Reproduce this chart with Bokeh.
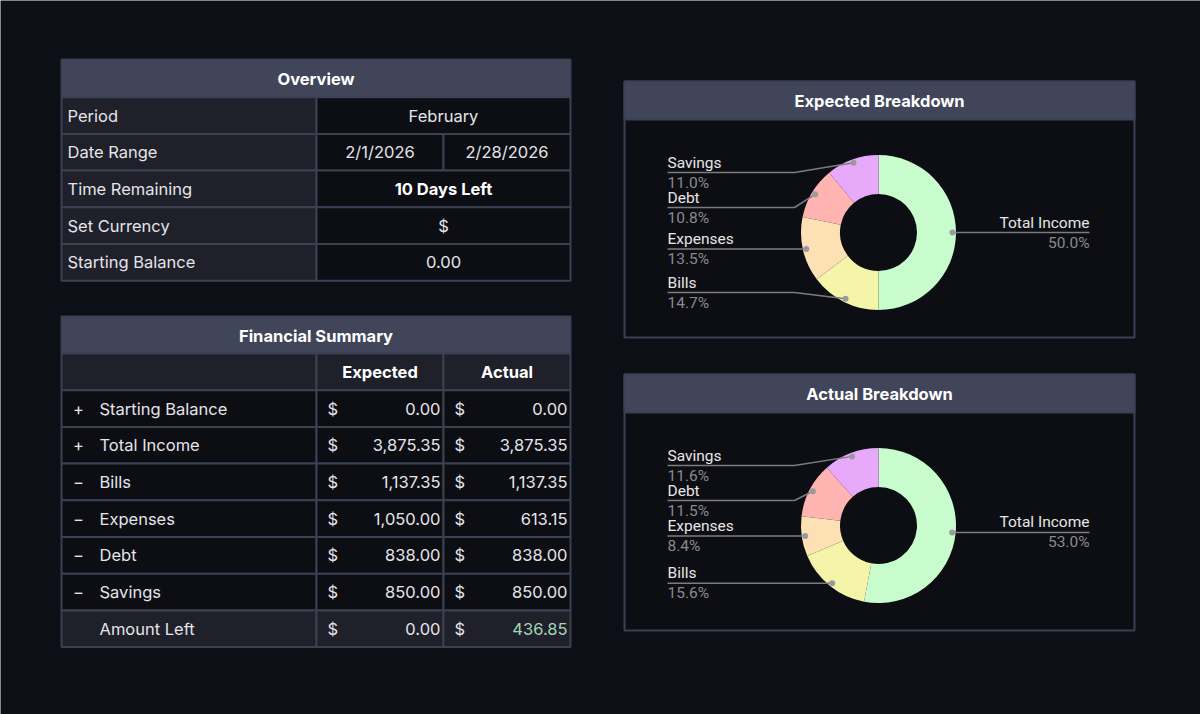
import math
from bokeh.plotting import figure
from bokeh.models import Range1d
from bokeh.core.properties import value
from bokeh.embed import file_html
from bokeh.resources import INLINE

# ---------------- data ----------------
overview_labels = ["Period", "Date Range", "Time Remaining", "Set Currency", "Starting Balance"]
period = "February"
start_date = "2/1/2026"
end_date = "2/28/2026"
time_remaining = "10 Days Left"
currency = "$"
starting_balance = 0.00

summary_labels = ["Starting Balance", "Total Income", "Bills", "Expenses", "Debt", "Savings"]
summary_signs = ["+", "+", "\u2212", "\u2212", "\u2212", "\u2212"]
expected = [0.00, 3875.35, 1137.35, 1050.00, 838.00, 850.00]
actual = [0.00, 3875.35, 1137.35, 613.15, 838.00, 850.00]

breakdown_categories = ["Total Income", "Bills", "Expenses", "Debt", "Savings"]
breakdown_colors = ["#c8fccc", "#f5f5a9", "#fde0b4", "#ffb4b1", "#e8a9fb"]

# ---------------- style ----------------
W, H = 1200, 714
BG = "#0d0f17"
HEAD = "#40455a"
LIGHT = "#1f2029"
DARK = "#0d0e14"
BORDER = "#3b4053"
TXT = "#e4e4ea"
TFONT = "Inter"
CFONT = "Roboto"
TSIZE = "16.5px"
CSIZE = "15.5px"


def Y(py):
    return H - py


p = figure(width=W, height=H, x_range=Range1d(0, W), y_range=Range1d(0, H),
           output_backend="svg", toolbar_location=None, min_border=0)
p.axis.visible = False
p.grid.visible = False
p.outline_line_color = None
p.background_fill_color = BG
p.border_fill_color = BG


def cell(x0, x1, y0, y1, fill):
    p.quad(left=[x0], right=[x1], top=[Y(y0)], bottom=[Y(y1)], fill_color=fill,
           line_color=BORDER, line_width=2)


def txt(x, y, s, size=TSIZE, color=TXT, align="left", bold=False, font=TFONT):
    p.text(x=[x], y=[Y(y)], text=[s], text_font=value(font), text_font_size=size,
           text_color=color, text_align=align, text_baseline="middle",
           text_font_style="bold" if bold else "normal")


def money(v):
    return f"{v:,.2f}"


# ---------------- tables ----------------
TX0, TX1, TC1, TC2 = 61, 570, 316, 443
RH = 36.7

# Overview
oy = 59
cell(TX0, TX1, oy, oy + 37.7, HEAD)
txt((TX0 + TX1) / 2, oy + 19, "Overview", color="#ffffff", align="center", bold=True)
ov_values = [[period], [start_date, end_date], [time_remaining], [currency], [money(starting_balance)]]
y0 = oy + 37.7
for i, lab in enumerate(overview_labels):
    a, b = y0 + i * RH, y0 + (i + 1) * RH
    cell(TX0, TC1, a, b, LIGHT)
    txt(TX0 + 6, (a + b) / 2, lab)
    vals = ov_values[i]
    if len(vals) == 1:
        cell(TC1, TX1, a, b, DARK)
        txt((TC1 + TX1) / 2, (a + b) / 2, vals[0], align="center", bold=(lab == "Time Remaining"),
            color="#ffffff" if lab == "Time Remaining" else TXT)
    else:
        cell(TC1, TC2, a, b, DARK)
        cell(TC2, TX1, a, b, DARK)
        txt((TC1 + TC2) / 2, (a + b) / 2, vals[0], align="center")
        txt((TC2 + TX1) / 2, (a + b) / 2, vals[1], align="center")

# Financial summary
sy = 316
cell(TX0, TX1, sy, sy + 37, HEAD)
txt((TX0 + TX1) / 2, sy + 19, "Financial Summary", color="#ffffff", align="center", bold=True)
a = sy + 37
b = a + RH
cell(TX0, TC1, a, b, LIGHT)
cell(TC1, TC2, a, b, LIGHT)
cell(TC2, TX1, a, b, LIGHT)
txt((TC1 + TC2) / 2, (a + b) / 2, "Expected", color="#ffffff", align="center", bold=True)
txt((TC2 + TX1) / 2, (a + b) / 2, "Actual", color="#ffffff", align="center", bold=True)

left_exp = sum(v if s == "+" else -v for s, v in zip(summary_signs, expected))
left_act = sum(v if s == "+" else -v for s, v in zip(summary_signs, actual))
rows = list(zip(summary_signs, summary_labels, expected, actual)) + [("", "Amount Left", left_exp, left_act)]
for i, (sg, lab, ve, va) in enumerate(rows):
    a = sy + 37 + (i + 1) * RH
    b = a + RH
    fill = LIGHT if lab == "Amount Left" else DARK
    cell(TX0, TC1, a, b, fill)
    cell(TC1, TC2, a, b, fill)
    cell(TC2, TX1, a, b, fill)
    m = (a + b) / 2
    if sg:
        txt(TX0 + 17, m, sg, align="center")
    txt(TX0 + 38, m, lab)
    txt(TC1 + 11, m, currency)
    txt(TC2 - 3, m, money(ve), align="right")
    txt(TC2 + 11, m, currency)
    txt(TX1 - 3, m, money(va), align="right",
        color="#a3d6b4" if lab == "Amount Left" else TXT)

# ---------------- donuts ----------------
PX0, PX1 = 624, 1134
R_OUT, R_IN, R_DOT = 77.5, 38.5, 74
LABEL_SPAN, LABEL_GAP = 60, 35


def donut(top, bottom, title, vals):
    cell(PX0, PX1, top, bottom, DARK)
    cell(PX0, PX1, top, top + 38, HEAD)
    txt((PX0 + PX1) / 2, top + 19, title, color="#ffffff", align="center", bold=True)
    cx = 878
    cy = (top + 38 + bottom) / 2 + 4
    total = sum(vals)
    fr = [v / total for v in vals]
    cum = 0.0
    starts, ends, mids = [], [], []
    for f in fr:
        starts.append(math.pi / 2 - 2 * math.pi * cum)
        mids.append(cum + f / 2)
        cum += f
        ends.append(math.pi / 2 - 2 * math.pi * cum)
    p.annular_wedge(x=[cx] * len(vals), y=[Y(cy)] * len(vals), inner_radius=R_IN, outer_radius=R_OUT,
                    start_angle=starts, end_angle=ends, direction="clock",
                    fill_color=breakdown_colors, line_color=None)
    dots = []
    for mfr in mids:
        ang = 2 * math.pi * mfr
        dots.append((cx + R_DOT * math.sin(ang), cy - R_DOT * math.cos(ang)))
    left = [i for i in range(len(vals)) if dots[i][0] < cx]
    left.sort(key=lambda i: dots[i][1])
    ly = {}
    prev = None
    for i in left:
        yy = min(max(dots[i][1], cy - LABEL_SPAN), cy + LABEL_SPAN)
        if prev is not None and yy < prev + LABEL_GAP:
            yy = prev + LABEL_GAP
        ly[i] = yy
        prev = yy
    for i in range(len(vals)):
        dx, dy = dots[i]
        pct = f"{fr[i] * 100:.1f}%"
        if i in ly:
            yy = ly[i]
            x_txt, knee = cx - 211, cx - 84
            p.line(x=[x_txt, knee, dx], y=[Y(yy), Y(yy), Y(dy)], line_color="#7c7c80", line_width=1.5)
            txt(x_txt, yy - 10, breakdown_categories[i], size=CSIZE, color="#e6e6e6", font=CFONT)
            txt(x_txt, yy + 10, pct, size=CSIZE, color="#8a8a8e", font=CFONT)
        else:
            yy = dy
            x_txt = cx + 211
            p.line(x=[dx, x_txt], y=[Y(dy), Y(dy)], line_color="#7c7c80", line_width=1.5)
            txt(x_txt, yy - 10, breakdown_categories[i], size=CSIZE, color="#e6e6e6", font=CFONT, align="right")
            txt(x_txt, yy + 10, pct, size=CSIZE, color="#8a8a8e", font=CFONT, align="right")
        p.scatter(x=[dx], y=[Y(dy)], size=6, fill_color="#9a9a9e", line_color=None)


donut(81, 337, "Expected Breakdown", expected[1:])
donut(374, 630, "Actual Breakdown", actual[1:])

html = file_html(p, INLINE)
html = html.replace("<body>", '<body style="margin:0;background:%s">' % BG, 1)
open("out.html", "w").write(html)
